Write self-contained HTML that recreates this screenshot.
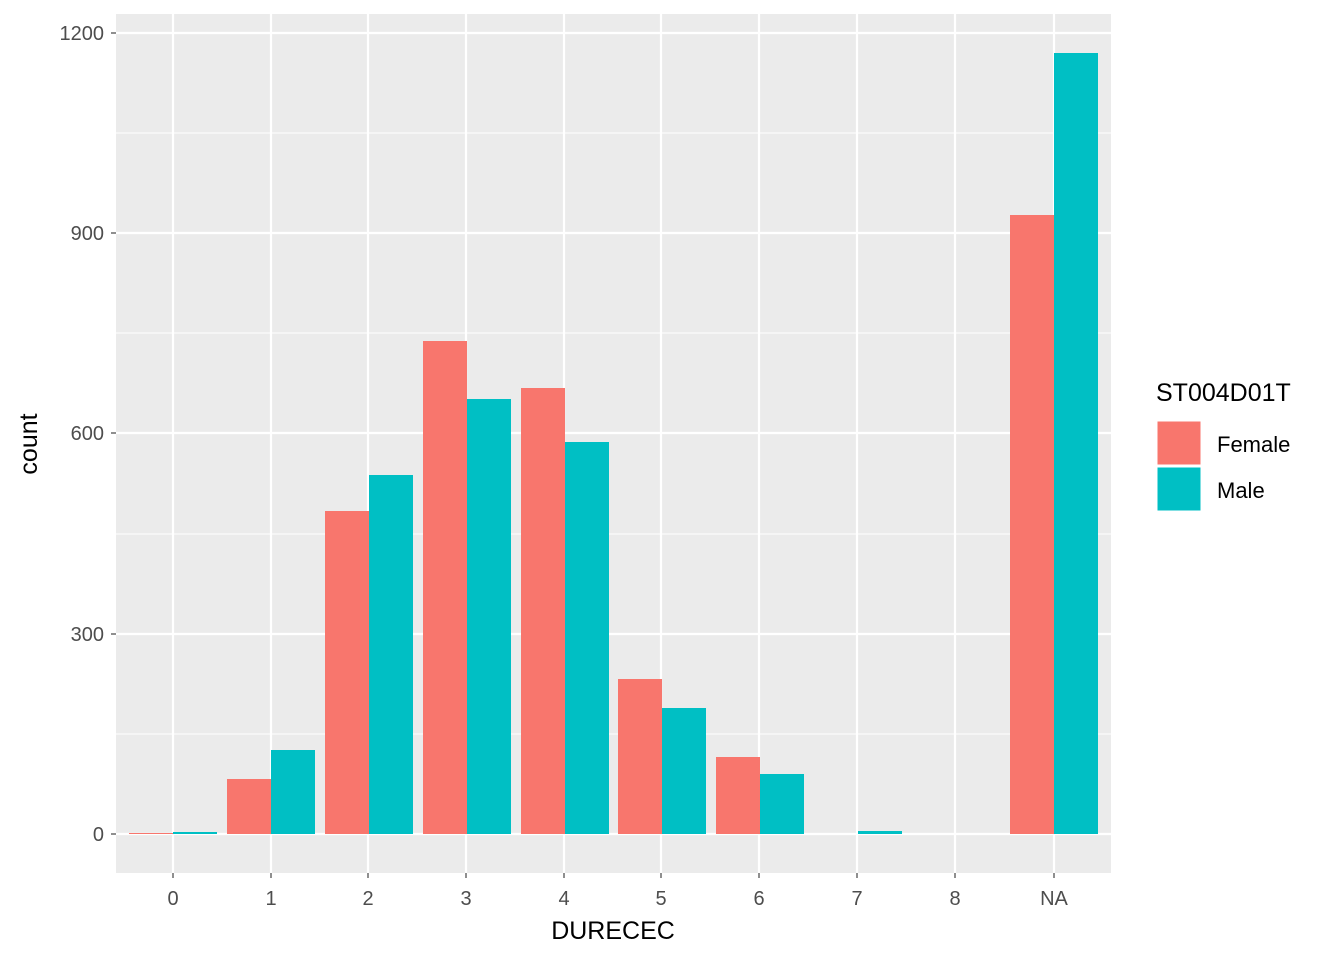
<!DOCTYPE html>
<html><head><meta charset="utf-8"><style>body{margin:0;background:#fff}</style></head><body>
<svg width="1344" height="960" xmlns="http://www.w3.org/2000/svg" font-family="Liberation Sans, Arial, sans-serif">
<rect width="1344" height="960" fill="#fff"/>
<rect x="116" y="14" width="995" height="859" fill="#ebebeb"/>
<g stroke="#fff" stroke-width="1.1">
<line x1="116" x2="1111" y1="734" y2="734"/><line x1="116" x2="1111" y1="534" y2="534"/><line x1="116" x2="1111" y1="333" y2="333"/><line x1="116" x2="1111" y1="133" y2="133"/>
</g>
<g stroke="#fff" stroke-width="2.2">
<line x1="116" x2="1111" y1="834" y2="834"/><line x1="116" x2="1111" y1="634" y2="634"/><line x1="116" x2="1111" y1="433" y2="433"/><line x1="116" x2="1111" y1="233" y2="233"/><line x1="116" x2="1111" y1="33" y2="33"/>
<line y1="14" y2="873" x1="173" x2="173"/><line y1="14" y2="873" x1="271" x2="271"/><line y1="14" y2="873" x1="368" x2="368"/><line y1="14" y2="873" x1="466" x2="466"/><line y1="14" y2="873" x1="564" x2="564"/><line y1="14" y2="873" x1="661" x2="661"/><line y1="14" y2="873" x1="759" x2="759"/><line y1="14" y2="873" x1="857" x2="857"/><line y1="14" y2="873" x1="955" x2="955"/><line y1="14" y2="873" x1="1054" x2="1054"/>
</g>
<g fill="#f8766d">
<rect x="129" y="833" width="44" height="1"/>
<rect x="227" y="779" width="44" height="55"/>
<rect x="325" y="511" width="44" height="323"/>
<rect x="423" y="341" width="44" height="493"/>
<rect x="521" y="388" width="44" height="446"/>
<rect x="618" y="679" width="44" height="155"/>
<rect x="716" y="757" width="44" height="77"/>
<rect x="1010" y="215" width="44" height="619"/>
</g>
<g fill="#00bfc4">
<rect x="173" y="832" width="44" height="2"/>
<rect x="271" y="750" width="44" height="84"/>
<rect x="369" y="475" width="44" height="359"/>
<rect x="467" y="399" width="44" height="435"/>
<rect x="565" y="442" width="44" height="392"/>
<rect x="662" y="708" width="44" height="126"/>
<rect x="760" y="774" width="44" height="60"/>
<rect x="858" y="831" width="44" height="3"/>
<rect x="1054" y="53" width="44" height="781"/>
</g>
<g stroke="#333" stroke-width="1.1">
<line x1="111" x2="116" y1="834" y2="834"/><line x1="111" x2="116" y1="634" y2="634"/><line x1="111" x2="116" y1="433" y2="433"/><line x1="111" x2="116" y1="233" y2="233"/><line x1="111" x2="116" y1="33" y2="33"/>
<line y1="873" y2="878" x1="173" x2="173"/><line y1="873" y2="878" x1="271" x2="271"/><line y1="873" y2="878" x1="368" x2="368"/><line y1="873" y2="878" x1="466" x2="466"/><line y1="873" y2="878" x1="564" x2="564"/><line y1="873" y2="878" x1="661" x2="661"/><line y1="873" y2="878" x1="759" x2="759"/><line y1="873" y2="878" x1="857" x2="857"/><line y1="873" y2="878" x1="955" x2="955"/><line y1="873" y2="878" x1="1054" x2="1054"/>
</g>
<g fill="#4d4d4d" font-size="20" text-anchor="end">
<text x="104" y="841">0</text><text x="104" y="641">300</text><text x="104" y="440">600</text><text x="104" y="240">900</text><text x="104" y="40">1200</text>
</g>
<g fill="#4d4d4d" font-size="20" text-anchor="middle">
<text x="173" y="905">0</text><text x="271" y="905">1</text><text x="368" y="905">2</text><text x="466" y="905">3</text><text x="564" y="905">4</text><text x="661" y="905">5</text><text x="759" y="905">6</text><text x="857" y="905">7</text><text x="955" y="905">8</text><text x="1054" y="905">NA</text>
</g>
<text x="613" y="939" font-size="25" text-anchor="middle">DURECEC</text>
<text transform="translate(37,444) rotate(-90)" font-size="25" text-anchor="middle">count</text>
<text x="1156" y="401" font-size="25">ST004D01T</text>
<rect x="1157" y="421" width="44" height="44" fill="#f8766d" stroke="#fff" stroke-width="1"/>
<rect x="1157" y="467" width="44" height="44" fill="#00bfc4" stroke="#fff" stroke-width="1"/>
<text x="1217" y="452" font-size="22">Female</text>
<text x="1217" y="498" font-size="22">Male</text>
</svg>
</body></html>
